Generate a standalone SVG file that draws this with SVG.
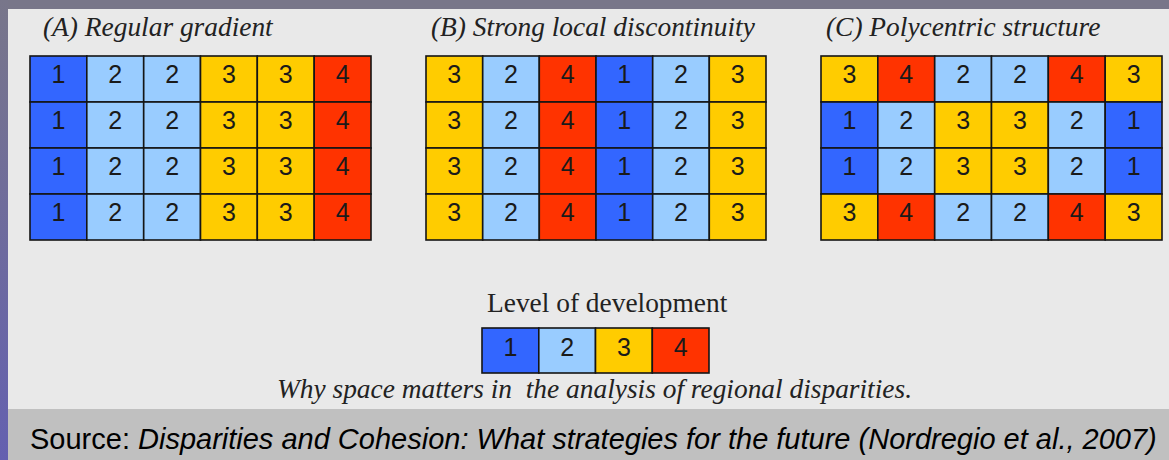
<svg xmlns="http://www.w3.org/2000/svg" width="1169" height="460" viewBox="0 0 1169 460">
<defs>
<linearGradient id="side" x1="0" y1="0" x2="0" y2="1">
<stop offset="0" stop-color="#78768a"/>
<stop offset="1" stop-color="#6460b0"/>
</linearGradient>
<style>
.c1{fill:#3366ff}.c2{fill:#99ccff}.c3{fill:#ffcc00}.c4{fill:#ff3300}
rect.cell{stroke:#151515;stroke-width:1.6}
.n{font-family:"Liberation Sans",Arial,sans-serif;font-size:25px;fill:#1a1a1a;text-anchor:middle}
.t{font-family:"Liberation Serif","Times New Roman",serif;font-size:27.4px;font-style:italic;fill:#222}
.lg{font-family:"Liberation Serif","Times New Roman",serif;font-size:27.4px;fill:#222}
.src{font-family:"Liberation Sans",Arial,sans-serif;font-size:29px;fill:#000}
</style>
</defs>
<rect x="0" y="0" width="1169" height="460" fill="#e9e9e9"/>
<rect x="0" y="0" width="1169" height="9" fill="#787689"/>
<rect x="0" y="409" width="1169" height="51" fill="#c0c0c0"/>
<rect x="0" y="0" width="8" height="460" fill="url(#side)"/>

<g id="titles">
<text class="t" x="43" y="36">(A) Regular gradient</text>
<text class="t" x="431" y="36">(B) Strong local discontinuity</text>
<text class="t" x="826" y="36">(C) Polycentric structure</text>
</g>

<g id="panelA">
<g id="A-r1">
<rect class="cell c1" x="30" y="56" width="56.8" height="46"/><text class="n" x="58.4" y="83">1</text>
<rect class="cell c2" x="86.8" y="56" width="56.9" height="46"/><text class="n" x="115.3" y="83">2</text>
<rect class="cell c2" x="143.7" y="56" width="56.8" height="46"/><text class="n" x="172.1" y="83">2</text>
<rect class="cell c3" x="200.5" y="56" width="56.8" height="46"/><text class="n" x="228.9" y="83">3</text>
<rect class="cell c3" x="257.3" y="56" width="56.9" height="46"/><text class="n" x="285.8" y="83">3</text>
<rect class="cell c4" x="314.2" y="56" width="56.8" height="46"/><text class="n" x="342.6" y="83">4</text>
</g>
<g id="A-r2">
<rect class="cell c1" x="30" y="102" width="56.8" height="46"/><text class="n" x="58.4" y="129">1</text>
<rect class="cell c2" x="86.8" y="102" width="56.9" height="46"/><text class="n" x="115.3" y="129">2</text>
<rect class="cell c2" x="143.7" y="102" width="56.8" height="46"/><text class="n" x="172.1" y="129">2</text>
<rect class="cell c3" x="200.5" y="102" width="56.8" height="46"/><text class="n" x="228.9" y="129">3</text>
<rect class="cell c3" x="257.3" y="102" width="56.9" height="46"/><text class="n" x="285.8" y="129">3</text>
<rect class="cell c4" x="314.2" y="102" width="56.8" height="46"/><text class="n" x="342.6" y="129">4</text>
</g>
<g id="A-r3">
<rect class="cell c1" x="30" y="148" width="56.8" height="46"/><text class="n" x="58.4" y="175">1</text>
<rect class="cell c2" x="86.8" y="148" width="56.9" height="46"/><text class="n" x="115.3" y="175">2</text>
<rect class="cell c2" x="143.7" y="148" width="56.8" height="46"/><text class="n" x="172.1" y="175">2</text>
<rect class="cell c3" x="200.5" y="148" width="56.8" height="46"/><text class="n" x="228.9" y="175">3</text>
<rect class="cell c3" x="257.3" y="148" width="56.9" height="46"/><text class="n" x="285.8" y="175">3</text>
<rect class="cell c4" x="314.2" y="148" width="56.8" height="46"/><text class="n" x="342.6" y="175">4</text>
</g>
<g id="A-r4">
<rect class="cell c1" x="30" y="194" width="56.8" height="46"/><text class="n" x="58.4" y="221">1</text>
<rect class="cell c2" x="86.8" y="194" width="56.9" height="46"/><text class="n" x="115.3" y="221">2</text>
<rect class="cell c2" x="143.7" y="194" width="56.8" height="46"/><text class="n" x="172.1" y="221">2</text>
<rect class="cell c3" x="200.5" y="194" width="56.8" height="46"/><text class="n" x="228.9" y="221">3</text>
<rect class="cell c3" x="257.3" y="194" width="56.9" height="46"/><text class="n" x="285.8" y="221">3</text>
<rect class="cell c4" x="314.2" y="194" width="56.8" height="46"/><text class="n" x="342.6" y="221">4</text>
</g>
</g>

<g id="panelB">
<g id="B-r1">
<rect class="cell c3" x="426" y="56" width="56.7" height="46"/><text class="n" x="454.3" y="83">3</text>
<rect class="cell c2" x="482.7" y="56" width="56.6" height="46"/><text class="n" x="511" y="83">2</text>
<rect class="cell c4" x="539.3" y="56" width="56.7" height="46"/><text class="n" x="567.7" y="83">4</text>
<rect class="cell c1" x="596" y="56" width="56.7" height="46"/><text class="n" x="624.3" y="83">1</text>
<rect class="cell c2" x="652.7" y="56" width="56.6" height="46"/><text class="n" x="681" y="83">2</text>
<rect class="cell c3" x="709.3" y="56" width="56.7" height="46"/><text class="n" x="737.7" y="83">3</text>
</g>
<g id="B-r2">
<rect class="cell c3" x="426" y="102" width="56.7" height="46"/><text class="n" x="454.3" y="129">3</text>
<rect class="cell c2" x="482.7" y="102" width="56.6" height="46"/><text class="n" x="511" y="129">2</text>
<rect class="cell c4" x="539.3" y="102" width="56.7" height="46"/><text class="n" x="567.7" y="129">4</text>
<rect class="cell c1" x="596" y="102" width="56.7" height="46"/><text class="n" x="624.3" y="129">1</text>
<rect class="cell c2" x="652.7" y="102" width="56.6" height="46"/><text class="n" x="681" y="129">2</text>
<rect class="cell c3" x="709.3" y="102" width="56.7" height="46"/><text class="n" x="737.7" y="129">3</text>
</g>
<g id="B-r3">
<rect class="cell c3" x="426" y="148" width="56.7" height="46"/><text class="n" x="454.3" y="175">3</text>
<rect class="cell c2" x="482.7" y="148" width="56.6" height="46"/><text class="n" x="511" y="175">2</text>
<rect class="cell c4" x="539.3" y="148" width="56.7" height="46"/><text class="n" x="567.7" y="175">4</text>
<rect class="cell c1" x="596" y="148" width="56.7" height="46"/><text class="n" x="624.3" y="175">1</text>
<rect class="cell c2" x="652.7" y="148" width="56.6" height="46"/><text class="n" x="681" y="175">2</text>
<rect class="cell c3" x="709.3" y="148" width="56.7" height="46"/><text class="n" x="737.7" y="175">3</text>
</g>
<g id="B-r4">
<rect class="cell c3" x="426" y="194" width="56.7" height="46"/><text class="n" x="454.3" y="221">3</text>
<rect class="cell c2" x="482.7" y="194" width="56.6" height="46"/><text class="n" x="511" y="221">2</text>
<rect class="cell c4" x="539.3" y="194" width="56.7" height="46"/><text class="n" x="567.7" y="221">4</text>
<rect class="cell c1" x="596" y="194" width="56.7" height="46"/><text class="n" x="624.3" y="221">1</text>
<rect class="cell c2" x="652.7" y="194" width="56.6" height="46"/><text class="n" x="681" y="221">2</text>
<rect class="cell c3" x="709.3" y="194" width="56.7" height="46"/><text class="n" x="737.7" y="221">3</text>
</g>
</g>

<g id="panelC">
<g id="C-r1">
<rect class="cell c3" x="821" y="56" width="56.8" height="46"/><text class="n" x="849.4" y="83">3</text>
<rect class="cell c4" x="877.8" y="56" width="56.9" height="46"/><text class="n" x="906.3" y="83">4</text>
<rect class="cell c2" x="934.7" y="56" width="56.8" height="46"/><text class="n" x="963.1" y="83">2</text>
<rect class="cell c2" x="991.5" y="56" width="56.8" height="46"/><text class="n" x="1019.9" y="83">2</text>
<rect class="cell c4" x="1048.3" y="56" width="56.9" height="46"/><text class="n" x="1076.8" y="83">4</text>
<rect class="cell c3" x="1105.2" y="56" width="56.8" height="46"/><text class="n" x="1133.6" y="83">3</text>
</g>
<g id="C-r2">
<rect class="cell c1" x="821" y="102" width="56.8" height="46"/><text class="n" x="849.4" y="129">1</text>
<rect class="cell c2" x="877.8" y="102" width="56.9" height="46"/><text class="n" x="906.3" y="129">2</text>
<rect class="cell c3" x="934.7" y="102" width="56.8" height="46"/><text class="n" x="963.1" y="129">3</text>
<rect class="cell c3" x="991.5" y="102" width="56.8" height="46"/><text class="n" x="1019.9" y="129">3</text>
<rect class="cell c2" x="1048.3" y="102" width="56.9" height="46"/><text class="n" x="1076.8" y="129">2</text>
<rect class="cell c1" x="1105.2" y="102" width="56.8" height="46"/><text class="n" x="1133.6" y="129">1</text>
</g>
<g id="C-r3">
<rect class="cell c1" x="821" y="148" width="56.8" height="46"/><text class="n" x="849.4" y="175">1</text>
<rect class="cell c2" x="877.8" y="148" width="56.9" height="46"/><text class="n" x="906.3" y="175">2</text>
<rect class="cell c3" x="934.7" y="148" width="56.8" height="46"/><text class="n" x="963.1" y="175">3</text>
<rect class="cell c3" x="991.5" y="148" width="56.8" height="46"/><text class="n" x="1019.9" y="175">3</text>
<rect class="cell c2" x="1048.3" y="148" width="56.9" height="46"/><text class="n" x="1076.8" y="175">2</text>
<rect class="cell c1" x="1105.2" y="148" width="56.8" height="46"/><text class="n" x="1133.6" y="175">1</text>
</g>
<g id="C-r4">
<rect class="cell c3" x="821" y="194" width="56.8" height="46"/><text class="n" x="849.4" y="221">3</text>
<rect class="cell c4" x="877.8" y="194" width="56.9" height="46"/><text class="n" x="906.3" y="221">4</text>
<rect class="cell c2" x="934.7" y="194" width="56.8" height="46"/><text class="n" x="963.1" y="221">2</text>
<rect class="cell c2" x="991.5" y="194" width="56.8" height="46"/><text class="n" x="1019.9" y="221">2</text>
<rect class="cell c4" x="1048.3" y="194" width="56.9" height="46"/><text class="n" x="1076.8" y="221">4</text>
<rect class="cell c3" x="1105.2" y="194" width="56.8" height="46"/><text class="n" x="1133.6" y="221">3</text>
</g>
</g>

<g id="legend">
<text class="lg" x="487" y="312">Level of development</text>
<rect class="cell c1" x="482" y="328" width="56.8" height="45"/><text class="n" x="510.4" y="356">1</text>
<rect class="cell c2" x="538.8" y="328" width="56.7" height="45"/><text class="n" x="567.1" y="356">2</text>
<rect class="cell c3" x="595.5" y="328" width="56.8" height="45"/><text class="n" x="623.9" y="356">3</text>
<rect class="cell c4" x="652.3" y="328" width="56.7" height="45"/><text class="n" x="680.6" y="356">4</text>
</g>

<g id="caption">
<text class="t" x="277" y="398" style="white-space:pre">Why space matters in  the analysis of regional disparities.</text>
</g>

<g id="source">
<text class="src" x="30" y="449">Source: <tspan font-style="italic">Disparities and Cohesion: What strategies for the future (Nordregio et al., 2007)</tspan></text>
</g>

<g id="connectors"/>
</svg>
